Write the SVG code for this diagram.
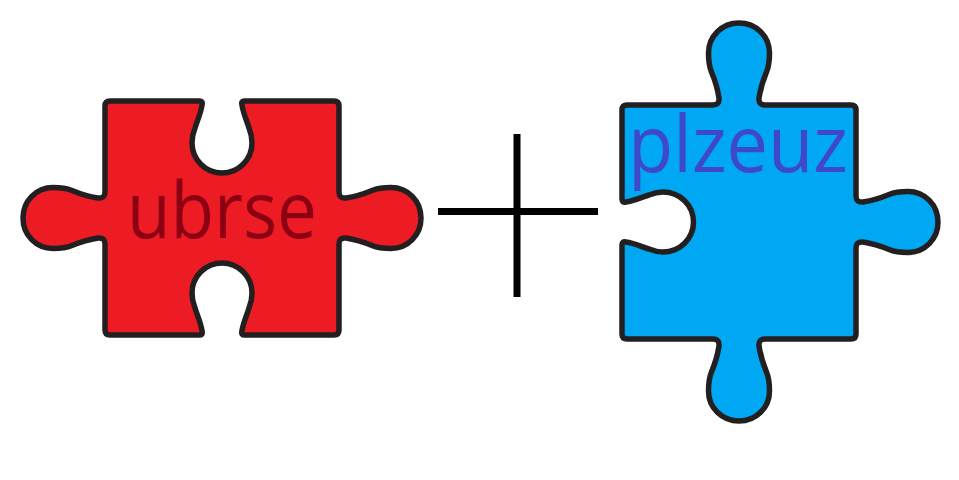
<svg xmlns="http://www.w3.org/2000/svg" width="959" height="480" viewBox="0 0 959 480">
<style>
.piece{stroke:#231f20;stroke-width:5.5;stroke-linejoin:round}
.label{font-family:"Open Sans","Noto Sans",sans-serif;font-size:78px;font-weight:400}
.plus{stroke:#000;stroke-width:7;fill:none}
</style>
<rect width="959" height="480" fill="#fff"/>
<g id="piece-ubrse">
<path class="piece" fill="#ed1c24" d="M110,101 L200,101 Q203,101 202,105 C201,113 197,121 195,128 C193,133 192,138 192,143 C192,159.5 205.5,173 222,173 C238.5,173 252,159.5 252,143 C252,138 251,133 249,128 C247,121 243,113 242,105 Q241,101 244,101 L334,101 Q339,101 339,106 L339,192 C339,196 341,198.5 346,198 C356,196.5 366,193 372,190.5 C378,188 384,187.5 391,187.5 C407.8,187.5 421,201 421,218 C421,235 407.8,248.5 391,248.5 C384,248.5 378,248 372,245.5 C366,243 356,239.5 346,238 C341,237.5 339,240 339,244 L339,330 Q339,335 334,335 L244,335 Q241,335 242,331 C243,323 247,315 249,308 C251,303 252,298 252,293 C252,276.5 238.5,263 222,263 C205.5,263 192,276.5 192,293 C192,298 193,303 195,308 C197,315 201,323 202,331 Q203,335 200,335 L110,335 Q105,335 105,330 L105,244 C105,240 103,237.5 98,238 C88,239.5 78,243 72,245.5 C66,248 60,248.5 53,248.5 C36.2,248.5 23,235 23,218 C23,201 36.2,187.5 53,187.5 C60,187.5 66,188 72,190.5 C78,193 88,196.5 98,198 C103,198.5 105,196 105,192 L105,106 Q105,101 110,101 Z"/>
<text class="label" x="222" y="238" text-anchor="middle" fill="#8c0014" textLength="190" lengthAdjust="spacingAndGlyphs">ubrse</text>
</g>
<g id="plus">
<path class="plus" d="M438,211.500H598M517,134V297"/>
</g>
<g id="piece-plzeuz">
<path class="piece" fill="#00a8f3" d="M627,105 L713,105 C717,105 719.500,103 719,98 C717.500,88 714,78 711.500,72 C709,66 708.500,60 708.500,53 C708.500,36.200 722,23 739,23 C756,23 769.500,36.200 769.500,53 C769.500,60 769,66 766.500,72 C764,78 760.500,88 759,98 C758.500,103 761,105 765,105 L851,105 Q856,105 856,110 L856,196 C856,200 858,202.500 863,202 C873,200.500 883,197 889,194.500 C895,192 901,191.500 908,191.500 C924.800,191.500 938,205 938,222 C938,239 924.800,252.500 908,252.500 C901,252.500 895,252 889,249.500 C883,247 873,243.500 863,242 C858,241.500 856,244 856,248 L856,334 Q856,339 851,339 L765,339 C761,339 758.500,341 759,346 C760.500,356 764,366 766.500,372 C769,378 769.500,384 769.500,391 C769.500,407.800 756,421 739,421 C722,421 708.500,407.800 708.500,391 C708.500,384 709,378 711.500,372 C714,366 717.500,356 719,346 C719.500,341 717,339 713,339 L627,339 Q622,339 622,334 L622,245 Q622,241 626,242 C634,243 642,247 649,249 C654,251 659,252 663,252 C680,252 693.500,238.500 693.500,222 C693.500,205.500 680,192 663,192 C659,192 654,193 649,195 C642,197 634,201 626,202 Q622,203 622,199 L622,110 Q622,105 627,105 Z"/>
<text class="label" x="738" y="172" text-anchor="middle" fill="#3f48cc" textLength="220" lengthAdjust="spacingAndGlyphs">plzeuz</text>
</g>
</svg>
